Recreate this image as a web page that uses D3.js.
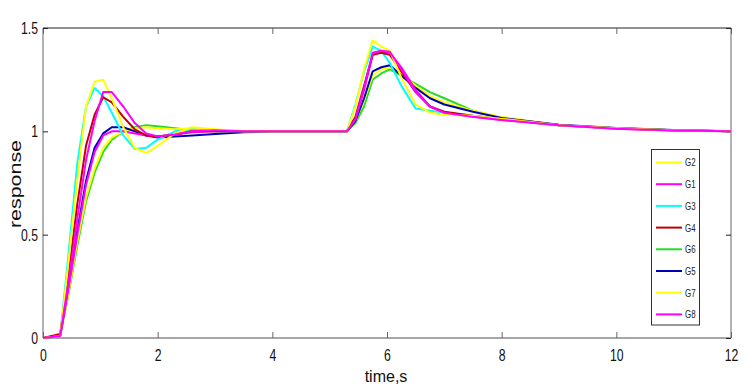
<!DOCTYPE html>
<html><head><meta charset="utf-8">
<script src="https://cdn.jsdelivr.net/npm/d3@7"></script>
<style>
body{margin:0;background:#fff;}
text{font-family:"Liberation Sans",Arial,sans-serif;}
</style></head>
<body><svg id="c" width="745" height="387"></svg>
<script>
const time = [0,0.3,0.45,0.6,0.75,0.9,1.05,1.2,1.4,1.6,1.8,2.0,2.3,2.6,3.0,3.5,4,5.3,5.45,5.6,5.75,5.9,6.05,6.25,6.5,6.75,7.0,7.5,8.0,9.0,10.0,11.0,12.0];
const seriesNames = ["G2","G1","G3","G4","G6","G5","G7","G8"];
const seriesColors = ["#ffff00","#ff00ff","#00ffff","#c00000","#22dd22","#0000b8","#ffff00","#ff00ff"];
const G2 = [0,0.01,0.38,0.77,1.12,1.24,1.25,1.16,1.02,0.92,0.895,0.93,0.99,1.02,1.01,1.0,1.0,1.0,1.12,1.30,1.44,1.41,1.39,1.26,1.13,1.09,1.08,1.075,1.06,1.03,1.015,1.005,1.0];
const G1 = [0,0.01,0.28,0.58,0.86,1.05,1.19,1.19,1.12,1.04,0.99,0.975,0.985,1.0,1.005,1.0,1.0,1.0,1.06,1.21,1.38,1.39,1.385,1.30,1.19,1.12,1.09,1.07,1.055,1.03,1.012,1.004,1.0];
const G3 = [0,0.01,0.42,0.85,1.12,1.21,1.17,1.09,0.98,0.915,0.92,0.96,1.0,1.01,1.0,1.0,1.0,1.0,1.13,1.29,1.41,1.39,1.33,1.22,1.11,1.10,1.09,1.075,1.06,1.03,1.015,1.005,1.0];
const G4 = [0,0.02,0.32,0.65,0.93,1.08,1.165,1.14,1.07,1.01,0.98,0.975,0.985,1.0,1.0,1.0,1.0,1.0,1.07,1.22,1.37,1.38,1.37,1.29,1.19,1.12,1.095,1.075,1.06,1.03,1.015,1.005,1.0];
const G6 = [0,0.01,0.22,0.45,0.66,0.80,0.90,0.96,1.0,1.02,1.03,1.025,1.015,1.005,1.0,1.0,1.0,1.0,1.04,1.12,1.25,1.28,1.30,1.27,1.23,1.19,1.16,1.10,1.065,1.03,1.015,1.005,1.0];
const G5 = [0,0.01,0.26,0.52,0.76,0.92,0.99,1.02,1.02,1.0,0.98,0.97,0.975,0.98,0.987,0.995,1.0,1.0,1.05,1.16,1.29,1.31,1.32,1.27,1.21,1.16,1.13,1.095,1.065,1.032,1.016,1.006,1.001];
const G7 = [0,0.01,0.23,0.47,0.68,0.82,0.92,0.97,1.0,1.015,1.02,1.015,1.01,1.015,1.005,1.0,1.0,1.0,1.05,1.15,1.27,1.30,1.31,1.28,1.22,1.17,1.14,1.10,1.07,1.03,1.015,1.005,1.0];
const G8 = [0,0.01,0.25,0.50,0.74,0.90,0.98,1.0,1.0,0.99,0.98,0.975,0.985,0.995,1.0,1.0,1.0,1.0,1.06,1.20,1.37,1.385,1.38,1.31,1.20,1.12,1.09,1.07,1.055,1.03,1.012,1.004,1.0];
const seriesValues = {G2,G1,G3,G4,G6,G5,G7,G8};
const xTicks = [0,2,4,6,8,10,12];
const yTicks = [0,0.5,1,1.5];
const yTickLabels = ["0","0.5","1","1.5"];

const svg = d3.select("#c");
const L=43,R=731,T=28,B=338;
const x = d3.scaleLinear().domain([0,12]).range([L,R]);
const y = d3.scaleLinear().domain([0,1.5]).range([B,T]);

// frame
svg.append("line").attr("x1",L).attr("x2",R).attr("y1",T).attr("y2",T).attr("stroke","#222").attr("stroke-width",1.2);
svg.append("line").attr("x1",R).attr("x2",R).attr("y1",T).attr("y2",B).attr("stroke","#999").attr("stroke-width",1.5);
svg.append("line").attr("x1",L).attr("x2",L).attr("y1",T).attr("y2",B).attr("stroke","#999").attr("stroke-width",1.5);
svg.append("line").attr("x1",L).attr("x2",R).attr("y1",B).attr("y2",B).attr("stroke","#888").attr("stroke-width",1.5);

const narrow = 0.72;
// ticks
const gx = svg.append("g").attr("transform",`translate(0,${B})`)
  .call(d3.axisBottom(x).tickValues(xTicks).tickSize(-6).tickPadding(11).tickFormat(d3.format("d")));
gx.select(".domain").remove();
gx.selectAll(".tick line").attr("stroke","#666");
gx.selectAll("text").attr("font-size",17).attr("fill","#111").attr("transform",`scale(${narrow},1)`);
const gxt = svg.append("g").attr("transform",`translate(0,${T})`)
  .call(d3.axisTop(x).tickValues(xTicks).tickSize(-6).tickFormat(""));
gxt.select(".domain").remove();
gxt.selectAll(".tick line").attr("stroke","#666");
const gy = svg.append("g").attr("transform",`translate(${L},0)`)
  .call(d3.axisLeft(y).tickValues(yTicks).tickSize(5).tickPadding(2).tickFormat((d,i)=>yTickLabels[i]));
gy.select(".domain").remove();
gy.selectAll(".tick line").attr("stroke","#222").attr("transform","translate(5,0)");
gy.selectAll("text").attr("font-size",17).attr("fill","#111").attr("transform",`scale(${narrow},1)`);
const gyr = svg.append("g").attr("transform",`translate(${R},0)`)
  .call(d3.axisRight(y).tickValues(yTicks).tickSize(-5).tickFormat(""));
gyr.select(".domain").remove();
gyr.selectAll(".tick line").attr("stroke","#222");

// lines
const line = d3.line().x((d,i)=>x(time[i])).y(d=>y(d));
const drawOrder = ["G6","G7","G5","G8","G3","G4","G2","G1"];
drawOrder.forEach(n=>{
  const i = seriesNames.indexOf(n);
  svg.append("path").datum(seriesValues[n]).attr("d",line)
    .attr("fill","none").attr("stroke",seriesColors[i]).attr("stroke-width",2).attr("stroke-linejoin","round");
});

// axis titles
svg.append("text").attr("x",386).attr("y",382).attr("text-anchor","middle")
  .attr("font-size",16).attr("fill","#111").text("time,s");
svg.append("text").attr("transform","translate(21,184) rotate(-90)").attr("text-anchor","middle")
  .attr("font-size",16).attr("fill","#111").attr("textLength",88).attr("lengthAdjust","spacingAndGlyphs").text("response");

// legend
const lg = svg.append("g");
lg.append("rect").attr("x",651.5).attr("y",149.5).attr("width",48).attr("height",175.5)
  .attr("fill","#fff").attr("stroke","#333").attr("stroke-width",1);
seriesNames.forEach((n,i)=>{
  const yy = 162.5 + i*21.7;
  lg.append("line").attr("x1",656).attr("x2",682).attr("y1",yy).attr("y2",yy)
    .attr("stroke",seriesColors[i]).attr("stroke-width",2);
  lg.append("text").attr("x",685/0.72).attr("y",yy+4).attr("font-size",11).attr("fill","#222")
    .attr("transform","scale(0.72,1)").text(n);
});
</script></body></html>
